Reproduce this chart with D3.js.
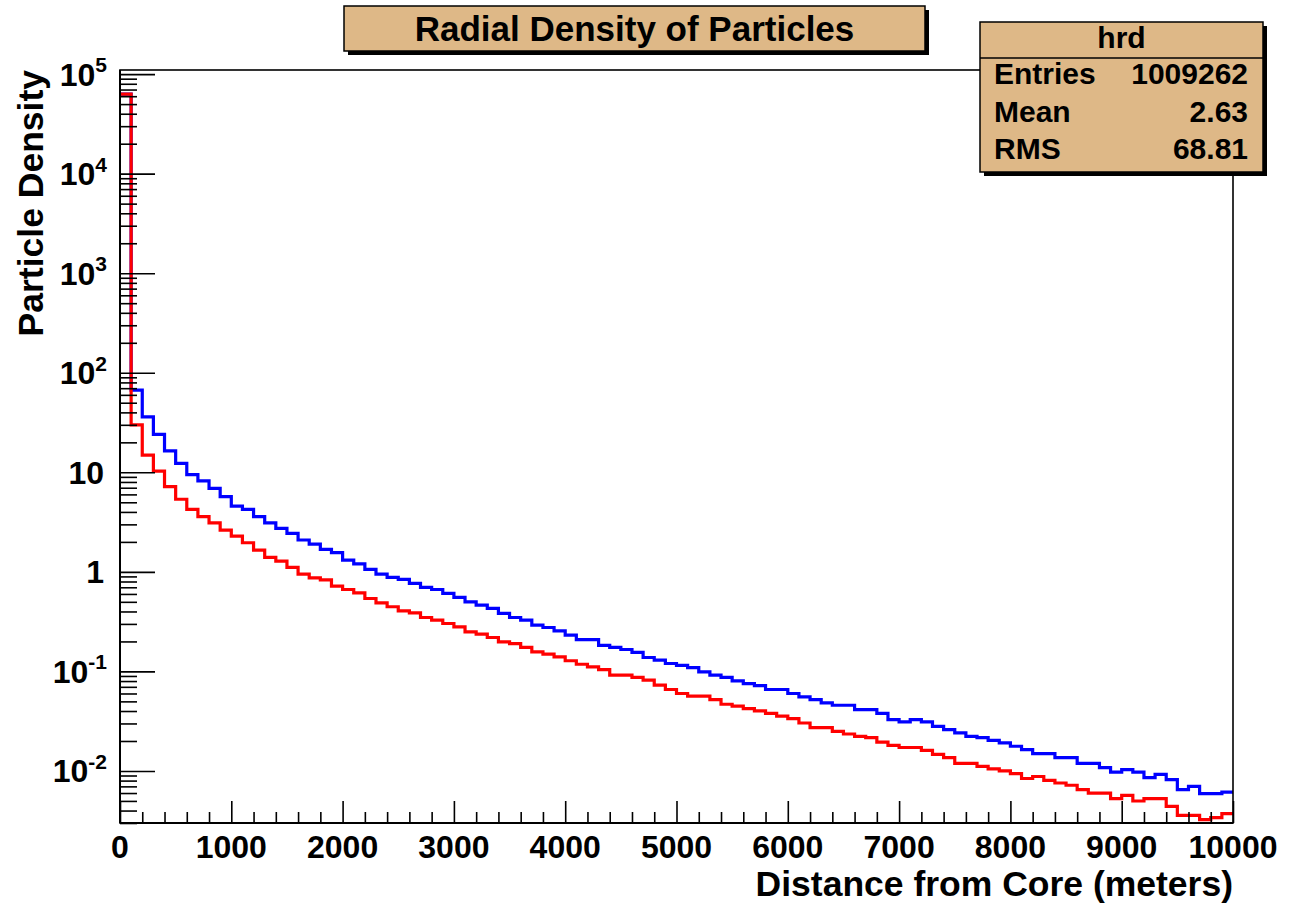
<!DOCTYPE html>
<html>
<head>
<meta charset="utf-8">
<script src="https://cdn.jsdelivr.net/npm/d3@7"></script>
<style>
  html, body { margin: 0; padding: 0; background: #ffffff; }
  svg { display: block; }
  text { font-family: "Liberation Sans", Arial, Helvetica, sans-serif; font-weight: bold; fill: #000; }
</style>
</head>
<body>
<svg id="chart" width="1289" height="908"></svg>
<script>
// Histogram binning: 100 bins of 100 m from 0 to 10000 m
const binCount = 100;
const xRange = [0, 10000];

// Particle density per bin (blue histogram)
const blueValues = [
  63000, 67, 36, 24, 16.4, 12.3, 9.5, 8.2, 6.9, 5.69,
  4.58, 4.25, 3.58, 3.11, 2.73, 2.44, 2.09, 1.90, 1.68, 1.56,
  1.31, 1.20, 1.06, 0.95, 0.88, 0.84, 0.765, 0.70, 0.665, 0.607,
  0.553, 0.50, 0.463, 0.43, 0.382, 0.348, 0.327, 0.292, 0.276, 0.255,
  0.231, 0.209, 0.209, 0.183, 0.174, 0.166, 0.155, 0.138, 0.130, 0.120,
  0.115, 0.109, 0.0989, 0.0916, 0.0869, 0.0802, 0.0755, 0.0721, 0.0658, 0.0658,
  0.060, 0.0555, 0.0521, 0.0482, 0.0457, 0.0457, 0.0414, 0.0414, 0.0378, 0.0328,
  0.0311, 0.0328, 0.0311, 0.0281, 0.0260, 0.0241, 0.0223, 0.0216, 0.0203, 0.0191,
  0.0177, 0.0164, 0.0149, 0.0149, 0.0136, 0.0136, 0.0119, 0.0119, 0.0108, 0.00975,
  0.0103, 0.00975, 0.00857, 0.00925, 0.00818, 0.00649, 0.00701, 0.00592, 0.00592, 0.00614
];

// Particle density per bin (red histogram)
const redValues = [
  63000, 29.9, 14.9, 10.3, 7.17, 5.36, 4.25, 3.58, 3.11, 2.63,
  2.29, 1.96, 1.65, 1.40, 1.28, 1.11, 0.95, 0.87, 0.83, 0.72,
  0.665, 0.615, 0.54, 0.489, 0.446, 0.406, 0.388, 0.348, 0.327, 0.303,
  0.280, 0.250, 0.237, 0.219, 0.198, 0.190, 0.174, 0.157, 0.149, 0.140,
  0.128, 0.118, 0.111, 0.104, 0.0916, 0.0916, 0.0869, 0.0817, 0.0727, 0.0658,
  0.0600, 0.0564, 0.0564, 0.0521, 0.0468, 0.0447, 0.0423, 0.0401, 0.0378, 0.0355,
  0.0336, 0.0303, 0.0273, 0.0273, 0.0250, 0.0235, 0.0222, 0.0216, 0.0195, 0.0181,
  0.0172, 0.0172, 0.0161, 0.0147, 0.0136, 0.0119, 0.0119, 0.0111, 0.0105, 0.0100,
  0.0094, 0.0084, 0.0088, 0.00805, 0.00757, 0.00718, 0.00649, 0.00600, 0.00600, 0.00527,
  0.00569, 0.00499, 0.00527, 0.00527, 0.00441, 0.00358, 0.00358, 0.00324, 0.00340, 0.00372
];

// Axis labels
const xTickValues = [0, 1000, 2000, 3000, 4000, 5000, 6000, 7000, 8000, 9000, 10000];
const yDecades = [-2, -1, 0, 1, 2, 3, 4, 5];
const yDomain = [0.003, 1.1e5];

// Statistics box contents
const statsTitle = "hrd";
const statsRows = [["Entries", "1009262"], ["Mean", "2.63"], ["RMS", "68.81"]];
const chartTitle = "Radial Density of Particles";
const xTitle = "Distance from Core (meters)";
const yTitle = "Particle Density";

const svg = d3.select("#chart");
const frame = { left: 120, right: 1233, top: 70, bottom: 823 };

const x = d3.scaleLinear().domain(xRange).range([frame.left, frame.right]);
const y = d3.scaleLog().domain(yDomain).range([frame.bottom, frame.top]);

const binWidth = (xRange[1] - xRange[0]) / binCount;

svg.append("defs").append("clipPath").attr("id", "plotClip")
  .append("rect")
  .attr("x", frame.left).attr("y", frame.top)
  .attr("width", frame.right - frame.left).attr("height", frame.bottom - frame.top);

// Step outline for a histogram
function stepPoints(values) {
  const pts = values.map((v, i) => [xRange[0] + i * binWidth, v]);
  pts.push([xRange[1], values[values.length - 1]]);
  return pts;
}
const stepLine = d3.line()
  .x(d => x(d[0]))
  .y(d => y(d[1]))
  .curve(d3.curveStepAfter);

const plot = svg.append("g").attr("clip-path", "url(#plotClip)");
plot.append("path")
  .attr("d", stepLine(stepPoints(blueValues)))
  .attr("fill", "none").attr("stroke", "#0000ff").attr("stroke-width", 3.2);
plot.append("path")
  .attr("d", stepLine(stepPoints(redValues)))
  .attr("fill", "none").attr("stroke", "#ff0000").attr("stroke-width", 3.2);

// Frame
svg.append("rect")
  .attr("x", frame.left).attr("y", frame.top)
  .attr("width", frame.right - frame.left).attr("height", frame.bottom - frame.top)
  .attr("fill", "none").attr("stroke", "#000").attr("stroke-width", 1.6);

// Y axis ticks (pointing into the plot)
const yMajor = yDecades.map(e => Math.pow(10, e));
const yMinor = [];
for (let e = -3; e <= 5; e++) {
  for (let m = 2; m <= 9; m++) {
    const v = m * Math.pow(10, e);
    if (v >= yDomain[0] * 0.999 && v <= yDomain[1]) yMinor.push(v);
  }
}
const yAxisMajor = d3.axisRight(y).tickValues(yMajor).tickSize(35).tickFormat("");
const yAxisMinor = d3.axisRight(y).tickValues(yMinor).tickSize(17).tickFormat("");
[yAxisMinor, yAxisMajor].forEach(ax => {
  const g = svg.append("g").attr("transform", `translate(${frame.left},0)`).call(ax);
  g.select(".domain").remove();
  g.selectAll("line").attr("stroke", "#000").attr("stroke-width", 1.6);
});
svg.append("line")
  .attr("x1", frame.left).attr("x2", frame.left)
  .attr("y1", frame.top).attr("y2", frame.bottom)
  .attr("stroke", "#000").attr("stroke-width", 2);

// Y tick labels (powers of ten)
const yLabels = svg.append("g");
yDecades.forEach(e => {
  const ty = y(Math.pow(10, e));
  const t = yLabels.append("text")
    .attr("x", e === 0 || e === 1 ? 104 : 107)
    .attr("y", ty + 11.5)
    .attr("text-anchor", "end")
    .attr("font-size", 32);
  if (e === 0) t.text("1");
  else if (e === 1) t.text("10");
  else {
    t.append("tspan").text("10");
    t.append("tspan").attr("font-size", 21).attr("dy", -13.5).text(String(e));
  }
});

// X axis ticks (pointing up into the plot)
const xMinor = d3.range(0, 10001, 200).filter(v => v % 1000 !== 0);
const xAxisMajor = d3.axisTop(x).tickValues(xTickValues).tickSize(22).tickFormat("");
const xAxisMinor = d3.axisTop(x).tickValues(xMinor).tickSize(11).tickFormat("");
[xAxisMinor, xAxisMajor].forEach(ax => {
  const g = svg.append("g").attr("transform", `translate(0,${frame.bottom})`).call(ax);
  g.select(".domain").remove();
  g.selectAll("line").attr("stroke", "#000").attr("stroke-width", 1.6);
});
svg.append("line")
  .attr("x1", frame.left).attr("x2", frame.right)
  .attr("y1", frame.bottom).attr("y2", frame.bottom)
  .attr("stroke", "#000").attr("stroke-width", 2);

// X tick labels
svg.append("g").selectAll("text").data(xTickValues).join("text")
  .attr("x", d => x(d))
  .attr("y", 858)
  .attr("text-anchor", "middle")
  .attr("font-size", 32)
  .text(d => String(d));

// Axis titles
svg.append("text")
  .attr("x", frame.right).attr("y", 896)
  .attr("text-anchor", "end")
  .attr("font-size", 35.5)
  .text(xTitle);
svg.append("text")
  .attr("transform", `translate(43,${frame.top}) rotate(-90)`)
  .attr("text-anchor", "end")
  .attr("font-size", 35.5)
  .text(yTitle);

// Boxes with drop shadow
const boxFill = "#deb887";
function shadowBox(x0, y0, w, h) {
  svg.append("rect").attr("x", x0 + 4).attr("y", y0 + 4).attr("width", w).attr("height", h).attr("fill", "#000");
  svg.append("rect").attr("x", x0).attr("y", y0).attr("width", w).attr("height", h)
    .attr("fill", boxFill).attr("stroke", "#000").attr("stroke-width", 1.5);
}

// Title box
shadowBox(344, 6, 581, 45);
svg.append("text")
  .attr("x", 634.5).attr("y", 41)
  .attr("text-anchor", "middle")
  .attr("font-size", 35)
  .text(chartTitle);

// Statistics box
const sb = { x: 980, y: 22, w: 283, h: 150 };
shadowBox(sb.x, sb.y, sb.w, sb.h);
svg.append("line")
  .attr("x1", sb.x).attr("x2", sb.x + sb.w)
  .attr("y1", 58).attr("y2", 58)
  .attr("stroke", "#000").attr("stroke-width", 1.5);
svg.append("text")
  .attr("x", sb.x + sb.w / 2).attr("y", 48)
  .attr("text-anchor", "middle")
  .attr("font-size", 30)
  .text(statsTitle);
statsRows.forEach((r, i) => {
  const by = 84 + i * 37.5;
  svg.append("text").attr("x", 994).attr("y", by).attr("font-size", 30).text(r[0]);
  svg.append("text").attr("x", 1248).attr("y", by).attr("text-anchor", "end").attr("font-size", 30).text(r[1]);
});
</script>
</body>
</html>
